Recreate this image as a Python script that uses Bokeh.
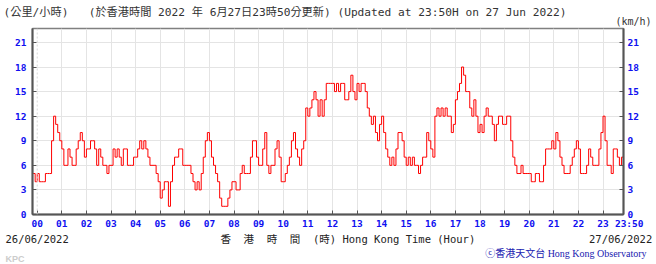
from bokeh.plotting import figure
from bokeh.models import Range1d, LinearAxis, FixedTicker, Span, Title
from bokeh.embed import file_html
from bokeh.resources import INLINE

# ---- data: 10-min mean wind speed (km/h), sampled every 5 minutes ----
prev_day = [5, 4]  # 23:50, 23:55 of 26/06
h00 = [5, 4, 4, 4, 5, 5, 5, 9, 12, 11, 10, 9]
h01 = [8, 6, 6, 8, 7, 6, 6, 8, 9, 10, 9, 7]
h02 = [8, 8, 9, 9, 8, 6, 8, 7, 6, 6, 5, 6]
h03 = [6, 8, 7, 8, 7, 6, 8, 8, 6, 6, 6, 7]
h04 = [7, 8, 9, 8, 9, 8, 7, 6, 6, 6, 5, 4]
h05 = [2, 3, 4, 4, 1, 4, 6, 7, 7, 8, 8, 6]
h06 = [6, 6, 6, 5, 4, 3, 4, 3, 5, 7, 9, 10]
h07 = [9, 7, 6, 5, 4, 2, 1, 1, 1, 2, 3, 4]
h08 = [4, 3, 3, 5, 6, 5, 5, 5, 7, 9, 9, 7]
h09 = [6, 6, 8, 10, 6, 5, 6, 6, 8, 9, 7, 4]
h10 = [4, 5, 6, 7, 9, 10, 8, 7, 6, 8, 9, 13]
h11 = [12, 13, 14, 15, 14, 12, 14, 12, 14, 16, 16, 16]
h12 = [16, 15, 16, 15, 16, 16, 14, 14, 15, 17, 15, 14]
h13 = [16, 15, 16, 16, 15, 13, 12, 11, 12, 10, 9, 11]
h14 = [12, 10, 8, 7, 6, 7, 6, 8, 10, 10, 9, 7]
h15 = [6, 7, 6, 7, 6, 6, 5, 6, 7, 7, 10, 9]
h16 = [8, 7, 12, 13, 12, 13, 12, 13, 12, 12, 10, 11]
h17 = [14, 15, 16, 18, 17, 15, 15, 13, 12, 14, 12, 10]
h18 = [11, 10, 12, 13, 12, 12, 11, 9, 11, 12, 12, 11]
h19 = [11, 12, 12, 9, 7, 6, 5, 5, 6, 5, 5, 5]
h20 = [5, 4, 4, 5, 5, 4, 4, 6, 8, 8, 8, 9]
h21 = [8, 10, 9, 7, 6, 5, 5, 5, 6, 7, 8, 9]
h22 = [8, 5, 5, 5, 6, 8, 7, 6, 6, 6, 8, 10]
h23 = [12, 9, 6, 6, 5, 8, 8, 7, 6, 7, 6]  # up to 23:50

speeds = (prev_day + h00 + h01 + h02 + h03 + h04 + h05 + h06 + h07 + h08 + h09 + h10 + h11
          + h12 + h13 + h14 + h15 + h16 + h17 + h18 + h19 + h20 + h21 + h22 + h23)
minutes = [-10 + 5 * i for i in range(len(speeds))]

hour_ticks = [60 * h for h in range(24)] + [1430]
hour_labels = ["%02d" % h for h in range(24)] + ["\u00a0\u00a023:50"]
speed_ticks = [0, 3, 6, 9, 12, 15, 18, 21]

unit_cn = "(公里/小時)"
updated = "(於香港時間 2022 年 6月27日23時50分更新) (Updated at 23:50H on 27 Jun 2022)"
unit_en = "(km/h)"
date_start = "26/06/2022"
date_end = "27/06/2022"
axis_cn = ["香", "港", "時", "間", "(時)"]
axis_en = "Hong Kong Time (Hour)"
credit = "ⓒ香港天文台 Hong Kong Observatory"
tag = "KPC"

# ---- geometry (canvas pixels) ----
W, H = 656, 264
FL, FR, FT, FB = 32, 623, 28, 214
XS, XE = -11.5, 1430
YE = 22.7

MONO = "DejaVu Sans Mono"
CJK = "'DejaVu Sans Mono', 'Noto Sans CJK TC'"
BLUE = "#1010f0"
NB = "\u00a0"

p = figure(width=W, height=H, output_backend="svg", toolbar_location=None, title=None,
           x_range=Range1d(XS, XE), y_range=Range1d(0, YE))
p.min_border_left = FL
p.min_border_right = W - FR
p.min_border_top = FT
p.min_border_bottom = H - FB
p.background_fill_color = "white"
p.border_fill_color = "white"
p.outline_line_color = "#808080"
p.outline_line_width = 1.5

xa = p.xaxis[0]
xa.ticker = FixedTicker(ticks=hour_ticks)
xa.major_label_overrides = {t: l for t, l in zip(hour_ticks, hour_labels)}
ya = p.yaxis[0]
ya.ticker = FixedTicker(ticks=speed_ticks)
ra = LinearAxis(ticker=FixedTicker(ticks=speed_ticks))
p.add_layout(ra, "right")

for ax in (xa, ya, ra):
    ax.axis_line_color = "#555555"
    ax.axis_line_width = 2
    ax.major_tick_in = 4
    ax.major_tick_out = 0
    ax.major_tick_line_color = "#555555"
    ax.minor_tick_line_color = None
    ax.major_label_text_font = MONO
    ax.major_label_text_font_style = "bold"
    ax.major_label_text_font_size = "9.5px"
    ax.major_label_text_color = BLUE
xa.major_label_standoff = 3
ya.major_label_standoff = 6
ra.major_label_standoff = 4

p.xgrid.ticker = FixedTicker(ticks=[60 * h for h in range(1, 24)])
p.ygrid.ticker = FixedTicker(ticks=speed_ticks[1:])
p.xgrid.grid_line_color = "#e4e4e4"
p.ygrid.grid_line_color = "#e4e4e4"
p.add_layout(Span(location=0, dimension="height", line_color="#d8d8d8",
                  line_dash="2 2", line_width=1))

p.step(x=minutes, y=speeds, mode="after", line_color="#ff0000", line_width=1)


def title(text, side, align, offset, standoff, size, color, font, style="normal",
          valign="bottom"):
    t = Title(text=text, align=align, offset=offset, text_font=font, text_font_size=size,
              text_color=color, text_font_style=style, vertical_align=valign)
    try:
        t.standoff = standoff
    except Exception:
        t.standoff = max(standoff, 0)
    p.add_layout(t, side)


# header rows (first added = nearest the frame)
title(unit_en, "above", "right", FR - 651, 4, "10px", "#333333", MONO)
title(unit_cn + NB * 3 + updated, "above", "left", 3 - FL, -14, "11.2px", "#333333", CJK)

# footer rows (below the x axis)
axis_cn_text = (" " + NB).join(axis_cn)
row1 = (date_start + NB * 24 + axis_cn_text + NB + axis_en + NB * 18 + date_end)
title(row1, "below", "left", 5 - FL, -1, "10.5px", "#222222", CJK)
title(credit, "below", "right", FR - 646, 2, "10px", "#2020b0",
      "'Liberation Serif', 'Noto Sans CJK TC'")
title(tag, "below", "left", 5 - FL, -12, "9px", "#cccccc", "Liberation Sans", "bold", "top")

open("out.html", "w").write(file_html(p, INLINE))
